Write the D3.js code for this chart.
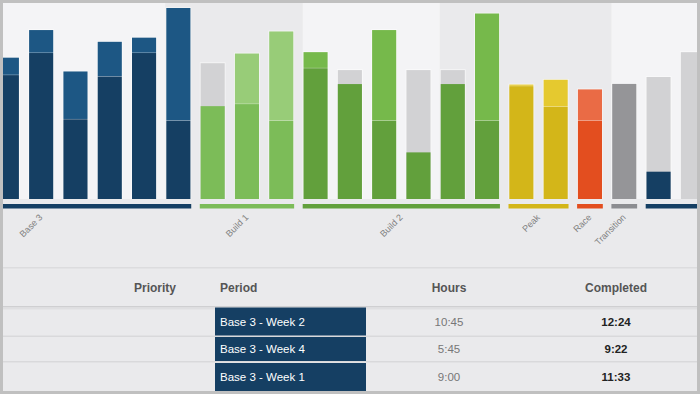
<!DOCTYPE html>
<html>
<head>
<meta charset="utf-8">
<script src="https://cdn.jsdelivr.net/npm/d3@7/dist/d3.min.js"></script>
<style>
  body { margin: 0; background: #eaeaec; }
  svg { display: block; font-family: "Liberation Sans", Arial, sans-serif; }
</style>
</head>
<body>
<svg id="chart" width="700" height="394"></svg>
<script>
// weekly hours for the visible weeks, left to right
const planned   = [9.0, 10.6, 5.8, 8.9, 10.6, 5.7, 9.9, 6.9, 5.7, 9.5, 9.4, 5.7, 9.4, 9.4, 5.7, 8.2, 6.7, 5.7, 8.4, 8.9, 10.7];
const completed = [10.3, 12.3, 9.3, 11.45, 11.75, 13.9, 6.75, 10.6, 12.2, 10.7, 8.35, 12.3, 3.4, 8.35, 13.5, 8.35, 8.7, 8.0, 8.4, 2.0, 0];

// phases of the plan (Base 3 starts 3 weeks before the visible window)
const firstWeek = -3;
const phaseNames   = ["Base 3", "Build 1", "Build 2", "Peak", "Race", "Transition", "Base 1"];
const phaseLengths = [9, 3, 6, 2, 1, 1, 4];
// week where each month column starts (shading alternates)
const monthStarts = [-3, 5, 9, 13, 18];

// table below the chart
const tableColumns = ["Priority", "Period", "Hours", "Completed"];
const periods = ["Base 3 - Week 2", "Base 3 - Week 4", "Base 3 - Week 1"];
const hours   = ["10:45", "5:45", "9:00"];
const done    = ["12:24", "9:22", "11:33"];

const phaseColor = {
  "Base 3":     { base: "#153f63", over: "#1d5784" },
  "Build 1":    { base: "#7cbc58", over: "#98cc78" },
  "Build 2":    { base: "#62a03c", over: "#76b94b" },
  "Peak":       { base: "#d3b619", over: "#e5c92f" },
  "Race":       { base: "#e34e1f", over: "#ea6b45" },
  "Transition": { base: "#959598", over: "#959598" },
  "Base 1":     { base: "#153f63", over: "#1d5784" }
};
const missColor = "#d2d2d4";

const W = 700, H = 394;
const svg = d3.select("#chart");

svg.append("defs").append("clipPath").attr("id", "inner")
  .append("rect").attr("x", 3).attr("y", 3).attr("width", 694).attr("height", 388);

const root = svg.append("g").attr("clip-path", "url(#inner)");

// one band per week, 34.3px apart
const step = 34.3;
const lastWeek = firstWeek + d3.sum(phaseLengths);
const weeks = d3.range(firstWeek, lastWeek);
const x0 = -6 - (0 - firstWeek) * step - step * 0.125;
const x = d3.scaleBand()
  .domain(weeks)
  .range([x0, x0 + weeks.length * step])
  .paddingInner(0.25)
  .paddingOuter(0.125);

const y = d3.scaleLinear().domain([0, 14]).range([199, 199 - 14 * 13.8]);

// week -> phase lookup
let weekPhase = {};
let phases = [];
let w = firstWeek;
phaseNames.forEach((name, i) => {
  phases.push({ name: name, first: w, last: w + phaseLengths[i] - 1 });
  for (let k = 0; k < phaseLengths[i]; k++) weekPhase[w + k] = name;
  w += phaseLengths[i];
});

// month background columns
root.selectAll(".month")
  .data(monthStarts)
  .enter().append("rect")
  .attr("class", "month")
  .attr("x", d => x(d))
  .attr("y", 3)
  .attr("width", (d, i) => (i < monthStarts.length - 1 ? x(monthStarts[i + 1]) : W) - x(d))
  .attr("height", y(0) - 3)
  .attr("fill", (d, i) => i % 2 ? "#eaeaec" : "#f4f4f6");

// bars: outer shape gets a faint light edge
const bars = planned.map((p, i) => ({ week: i, planned: p, completed: completed[i], phase: weekPhase[i] }));
const barG = root.append("g");
bars.forEach(d => {
  const c = phaseColor[d.phase];
  let parts;
  if (d.completed >= d.planned) {
    parts = [[0, d.planned, c.base], [d.planned, d.completed, c.over]];
  } else {
    parts = [[0, d.planned, missColor], [0, d.completed, c.base]];
  }
  const top = Math.max(d.planned, d.completed);
  barG.append("rect")
    .attr("x", x(d.week))
    .attr("width", x.bandwidth())
    .attr("y", y(top))
    .attr("height", y(0) - y(top))
    .attr("fill", "#ffffff")
    .attr("opacity", 0.6);
  barG.selectAll(null)
    .data(parts.filter(p => p[1] > p[0]))
    .enter().append("rect")
    .attr("x", x(d.week) + 0.8)
    .attr("width", x.bandwidth() - 1.6)
    .attr("y", p => y(p[1]) + (p[1] == top ? 0.8 : 0.3))
    .attr("height", p => y(p[0]) - y(p[1]) - (p[1] == top ? 0.8 : 0.3))
    .attr("fill", p => p[2]);
});

// phase strips under the bars
root.selectAll(".phase")
  .data(phases)
  .enter().append("rect")
  .attr("class", "phase")
  .attr("x", d => x(d.first))
  .attr("y", 204)
  .attr("width", d => x(d.last) + x.bandwidth() - x(d.first))
  .attr("height", 4.5)
  .attr("fill", d => d.name == "Transition" ? "#8c8d91" : phaseColor[d.name].base);

// phase labels, rotated
root.selectAll(".plabel")
  .data(phases.filter(d => (x(d.first) + x(d.last) + x.bandwidth()) / 2 < W - 10))
  .enter().append("text")
  .attr("class", "plabel")
  .attr("transform", d => "translate(" + ((x(d.first) + x(d.last) + x.bandwidth()) / 2 + 2) + ",218) rotate(-45)")
  .attr("text-anchor", "end")
  .style("font-size", "9px")
  .style("fill", "#808080")
  .text(d => d.name);

// ---- table ----
root.append("rect").attr("x", 0).attr("y", 267).attr("width", W).attr("height", 1.5).attr("fill", "#dcdcde");
root.append("rect").attr("x", 0).attr("y", 306).attr("width", W).attr("height", 1.5).attr("fill", "#cfcfd1");
root.append("rect").attr("x", 0).attr("y", 307.5).attr("width", W).attr("height", 2).attr("fill", "#dfdfe1");

const colX = [176, 220, 449, 616];
const colAnchor = ["end", "start", "middle", "middle"];
root.selectAll(".head")
  .data(tableColumns)
  .enter().append("text")
  .attr("class", "head")
  .attr("x", (d, i) => colX[i])
  .attr("y", 292)
  .attr("text-anchor", (d, i) => colAnchor[i])
  .style("font-size", "12px")
  .style("font-weight", "bold")
  .style("fill", "#555555")
  .text(d => d);

const rowTop = [307.5, 337, 363];
const rowBottom = [335.5, 361, 391];

// row separators
root.selectAll(".sep")
  .data(rowBottom.slice(0, 2))
  .enter().append("rect")
  .attr("class", "sep")
  .attr("x", 0)
  .attr("y", d => d)
  .attr("width", W)
  .attr("height", 1.5)
  .attr("fill", "#d9d9db");

const rows = root.selectAll(".row")
  .data(periods)
  .enter().append("g")
  .attr("class", "row");

rows.append("rect")
  .attr("x", 215)
  .attr("y", (d, i) => rowTop[i])
  .attr("width", 151)
  .attr("height", (d, i) => rowBottom[i] - rowTop[i])
  .attr("fill", "#153f63");

rows.append("text")
  .attr("x", 220)
  .attr("y", (d, i) => (rowTop[i] + rowBottom[i]) / 2 + 4)
  .style("font-size", "11.5px")
  .style("fill", "#ffffff")
  .text(d => d);

rows.append("text")
  .attr("x", 449)
  .attr("y", (d, i) => (rowTop[i] + rowBottom[i]) / 2 + 4)
  .attr("text-anchor", "middle")
  .style("font-size", "11.5px")
  .style("fill", "#777777")
  .text((d, i) => hours[i]);

rows.append("text")
  .attr("x", 616)
  .attr("y", (d, i) => (rowTop[i] + rowBottom[i]) / 2 + 4)
  .attr("text-anchor", "middle")
  .style("font-size", "11.5px")
  .style("font-weight", "bold")
  .style("fill", "#222222")
  .text((d, i) => done[i]);

// outer frame
svg.append("rect")
  .attr("x", 1.5).attr("y", 1.5)
  .attr("width", W - 3).attr("height", H - 3)
  .attr("fill", "none")
  .attr("stroke", "#c0c0c0")
  .attr("stroke-width", 3);
</script>
</body>
</html>
